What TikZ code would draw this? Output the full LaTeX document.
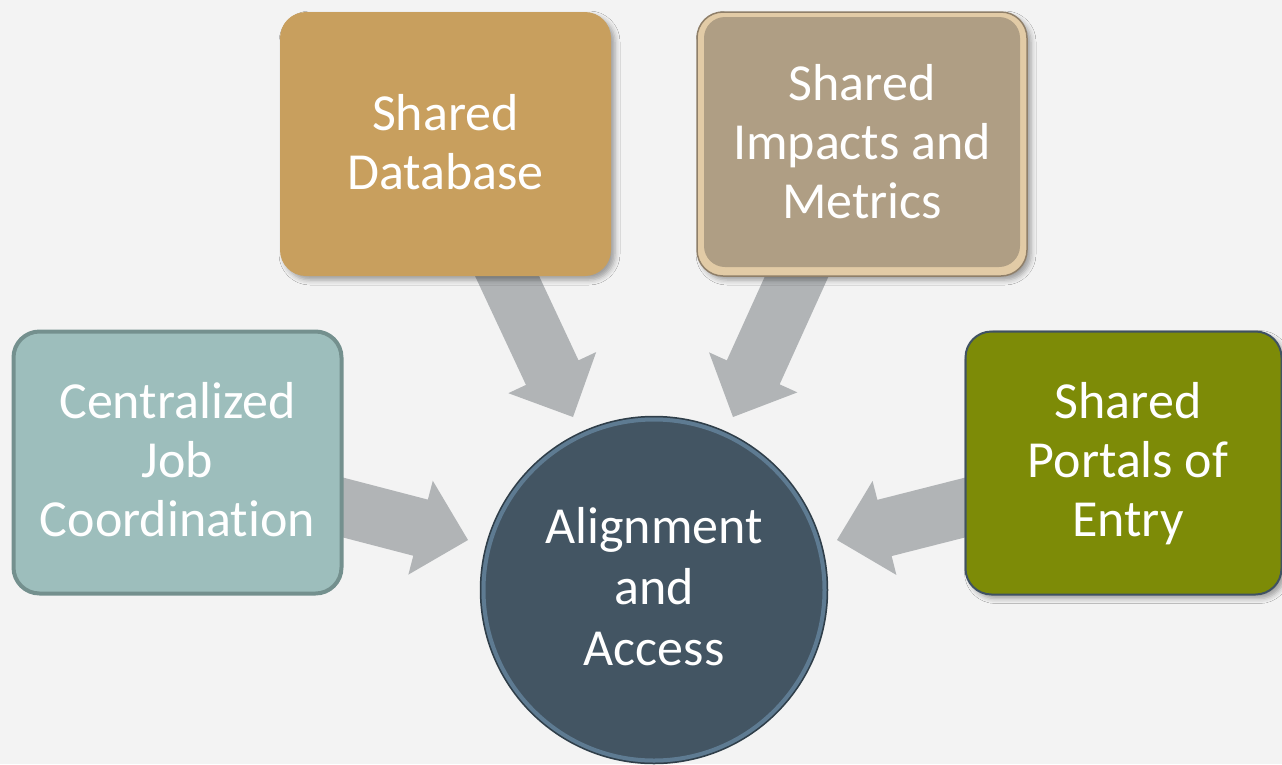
\documentclass[tikz,border=0pt]{standalone}
\usepackage{fontspec}
\setmainfont{Carlito}[RawFeature={-liga;-dlig}]
\usetikzlibrary{calc,shadows.blur}
\definecolor{bg}{HTML}{F3F3F3}
\definecolor{arrowgray}{HTML}{B1B4B6}
\definecolor{dbfill}{HTML}{C89F5E}
\definecolor{imfill}{HTML}{AF9E84}
\definecolor{imring}{HTML}{E2CBA6}
\definecolor{imedge}{HTML}{8F7F69}
\definecolor{jobfill}{HTML}{9DBEBC}
\definecolor{jobedge}{HTML}{74908E}
\definecolor{ptfill}{HTML}{7D8B07}
\definecolor{ptedge}{HTML}{405262}
\definecolor{cfill}{HTML}{435563}
\definecolor{cring}{HTML}{5E7B92}
\definecolor{cedge}{HTML}{2F3E49}
\newcommand\blockarrow[2]{%
  \coordinate (#2h) at ($(#2)!49pt!(#1)$);
  \fill[arrowgray] ($(#1)!29pt!90:(#2)$) -- ($(#2h)!29pt!90:(#2)$) -- ($(#2h)!48.5pt!90:(#2)$)
    -- (#2) -- ($(#2h)!48.5pt!-90:(#2)$) -- ($(#2h)!29pt!-90:(#2)$) -- ($(#1)!29pt!-90:(#2)$) -- cycle;
}
\tikzset{
  boxbase/.style={rectangle, rounded corners=26pt, inner sep=0pt, outer sep=0pt},
  softshadow/.style={blur shadow={shadow xshift=4pt, shadow yshift=-4pt, shadow blur radius=5pt, shadow opacity=35}},
  txt/.style={anchor=base, text=white, inner sep=0pt, font=\fontsize{52}{60}\selectfont},
}
\begin{document}
\begin{tikzpicture}[x=1pt,y=-1pt]
\useasboundingbox (0,0) rectangle (1282,764);
\fill[bg] (0,0) rectangle (1282,764);

% arrow end points
\coordinate (tA) at (490.2,240);  \coordinate (pA) at (573,417);
\coordinate (tB) at (813.2,240);  \coordinate (pB) at (733,417);
\coordinate (tC) at (300,496.3);  \coordinate (pC) at (468,540);
\coordinate (tD) at (1010,496.1); \coordinate (pD) at (837,540);
\blockarrow{tA}{pA}
\blockarrow{tB}{pB}
\blockarrow{tC}{pC}
\blockarrow{tD}{pD}

% boxes
\node[boxbase, fill=dbfill, softshadow, minimum width=331pt, minimum height=264pt] (db) at (445.5,144) {};
\node[boxbase, fill=imring, draw=imedge, line width=1.5pt, softshadow, minimum width=330pt, minimum height=264pt] (im) at (862,144) {};
\node[boxbase, rounded corners=21pt, fill=imfill, minimum width=316pt, minimum height=250pt] (iminner) at (862,142) {};
\node[boxbase, fill=jobfill, draw=jobedge, line width=4pt, minimum width=328pt, minimum height=262pt] (job) at (177.5,462.5) {};
\node[boxbase, fill=ptfill, draw=ptedge, line width=2pt, softshadow, minimum width=316pt, minimum height=263pt] (pt) at (1123.5,463) {};

% circle
\node[circle, fill=cfill, draw=cedge, line width=1.5pt, minimum size=347pt, inner sep=0pt] (ctr) at (654,590) {};
\draw[cring, line width=4pt] (ctr.center) circle[radius=170.5pt];

% texts
\node[txt] (dbA) at (445.5,130) {Shared};
\node[txt] (dbB) at (445.5,189) {Database};
\node[txt] (imA) at (862,100) {Shared};
\node[txt] (imB) at (862,159) {Impacts and};
\node[txt] (imC) at (862,218) {Metrics};
\node[txt] (jobA) at (177.5,418) {Centralized};
\node[txt] (jobB) at (177.5,477) {Job};
\node[txt] (jobC) at (177.5,536) {Coordination};
\node[txt] (ptA) at (1128,418) {Shared};
\node[txt] (ptB) at (1128,477) {Portals of};
\node[txt] (ptC) at (1128,536) {Entry};
\node[txt] (cA) at (654,543) {Alignment};
\node[txt] (cB) at (654,604) {and};
\node[txt] (cC) at (654,665) {Access};
\end{tikzpicture}
\end{document}
